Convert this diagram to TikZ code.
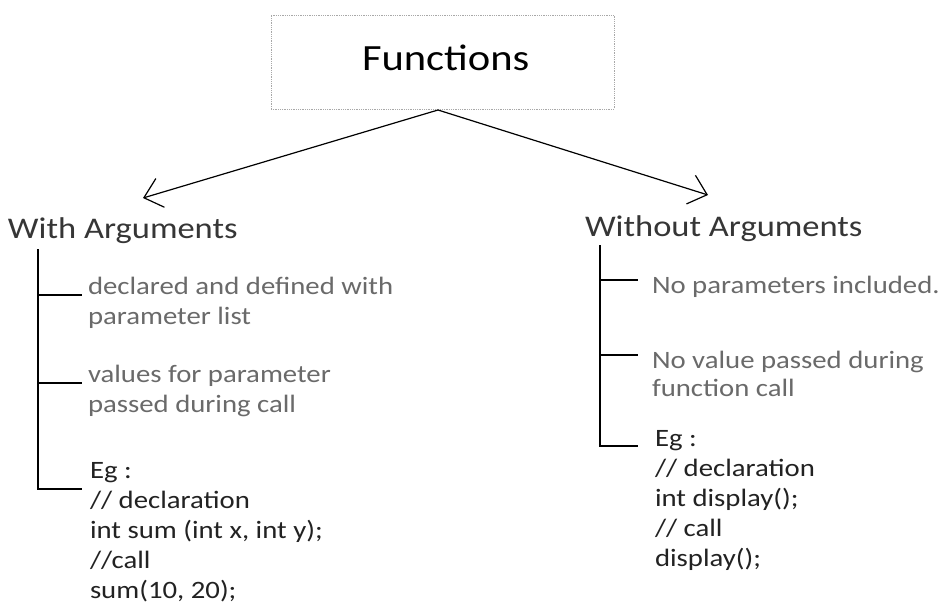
\documentclass[tikz,border=0pt]{standalone}
\usepackage{graphicx}
\usepackage{fontspec}
\setmainfont{Carlito}
\usetikzlibrary{arrows.meta}
\definecolor{headc}{HTML}{363636}
\definecolor{descc}{HTML}{6A6A6A}
\definecolor{codec}{HTML}{222222}
\definecolor{boxc}{HTML}{A8A8A8}
\newcommand\wide[1]{\scalebox{1.15}[1]{#1}}
\begin{document}
\begin{tikzpicture}[x=1pt,y=-1pt,
  txt/.style={anchor=base west, inner sep=0pt, outer sep=0pt},
  title/.style={txt, text=black, font=\fontsize{37}{44}\selectfont},
  head/.style={txt, text=headc, font=\fontsize{30}{36}\selectfont},
  desc/.style={txt, text=descc, font=\fontsize{25}{30}\selectfont},
  code/.style={txt, text=codec, font=\fontsize{25}{30}\selectfont},
  tree/.style={line width=1.4pt, black},
  arr/.style={line width=1.2pt, black, -{Straight Barb[length=17pt,width=30pt,line width=1.2pt]}}]
\useasboundingbox[fill=white] (0,0) rectangle (941,606);

% top box
\node[draw=boxc, densely dotted, line width=0.8pt, minimum width=343pt, minimum height=94pt, inner sep=0pt] (fn) at (442.5,62) {};
\node[title] (fntext) at (362,70) {\wide{Functions}};

% headings
\node[head] (with) at (8,238) {\wide{With Arguments}};
\node[head] (without) at (585,236) {\wide{Without Arguments}};

% arrows from the box
\coordinate (apex) at (438,110);
\coordinate (lt) at (143,198);
\coordinate (rt) at (708,195);
\draw[arr] (apex) -- (lt);
\draw[arr] (apex) -- (rt);

% left branch
\coordinate (lt0) at (38,249);
\coordinate (la) at (38,295);
\coordinate (lb) at (38,383);
\coordinate (lc) at (38,489);
\node[desc] (l1a) at (88,294) {\wide{declared and defined with}};
\node[desc] (l1b) at (88,324) {\wide{parameter list}};
\node[desc] (l2a) at (88,382) {\wide{values for parameter}};
\node[desc] (l2b) at (88,412) {\wide{passed during call}};
\node[code] (l3a) at (90,478) {\wide{Eg :}};
\node[code] (l3b) at (90,508) {\wide{// declaration}};
\node[code] (l3c) at (90,538) {\wide{int sum (int x, int y);}};
\node[code] (l3d) at (90,568) {\wide{//call}};
\node[code] (l3e) at (90,598) {\wide{sum(10, 20);}};
\draw[tree] (lt0) -- (lc) -- +(44,0);
\draw[tree] (la) -- +(44,0);
\draw[tree] (lb) -- +(44,0);

% right branch
\coordinate (rt0) at (600,245);
\coordinate (ra) at (600,280);
\coordinate (rb) at (600,355);
\coordinate (rc) at (600,446);
\node[desc] (r1a) at (652,293) {\wide{No parameters included.}};
\node[desc] (r2a) at (652,368) {\wide{No value passed during}};
\node[desc] (r2b) at (652,396) {\wide{function call}};
\node[code] (r3a) at (655,446) {\wide{Eg :}};
\node[code] (r3b) at (655,476) {\wide{// declaration}};
\node[code] (r3c) at (655,506) {\wide{int display();}};
\node[code] (r3d) at (655,536) {\wide{// call}};
\node[code] (r3e) at (655,566) {\wide{display();}};
\draw[tree] (rt0) -- (rc) -- +(38,0);
\draw[tree] (ra) -- +(38,0);
\draw[tree] (rb) -- +(38,0);
\end{tikzpicture}
\end{document}
